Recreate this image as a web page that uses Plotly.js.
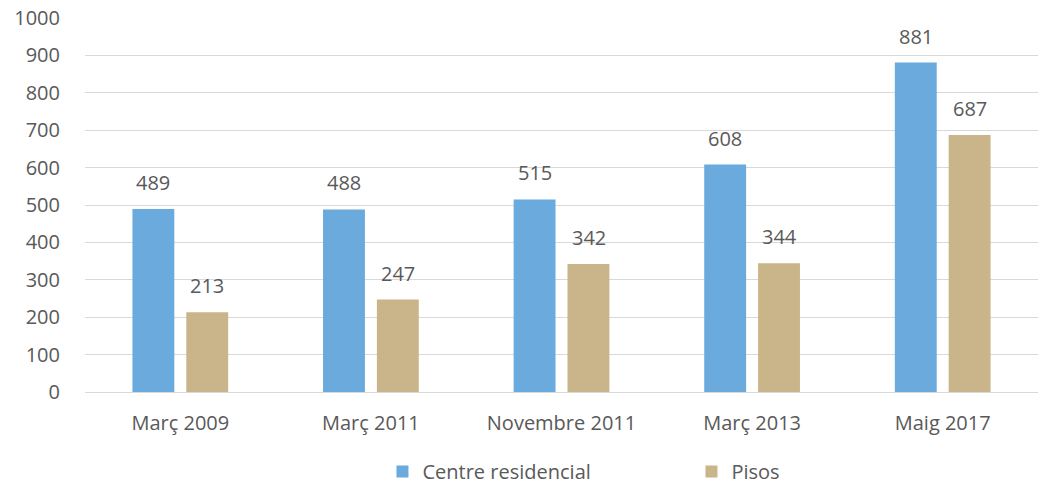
<!DOCTYPE html>
<html><head><meta charset="utf-8">
<script src="https://cdn.plot.ly/plotly-3.0.1.min.js"></script>
<style>body{margin:0;background:#fff}#c{width:1045px;height:491px}</style>
</head><body><div id="c"></div>
<script>
const categories = ["Març 2009", "Març 2011", "Novembre 2011", "Març 2013", "Maig 2017"];
const centreResidencial = [489, 488, 515, 608, 881];
const pisos = [213, 247, 342, 344, 687];
const seriesNames = ["Centre residencial", "Pisos"];
const yTicks = [0, 100, 200, 300, 400, 500, 600, 700, 800, 900, 1000];

const font = {family: "Open Sans, Liberation Sans, sans-serif", size: 20, color: "#595959"};
const traces = [
  {type: "bar", x: categories, y: centreResidencial, name: seriesNames[0], marker: {color: "#6aaadc"}},
  {type: "bar", x: categories, y: pisos, name: seriesNames[1], marker: {color: "#c9b589"}}
];
const annotations = [];
[centreResidencial, pisos].forEach((vals, si) => {
  vals.forEach((v, i) => {
    annotations.push({x: categories[i], y: v, text: String(v), showarrow: false,
      xshift: si === 0 ? -27 : 27, yshift: 11, yanchor: "bottom",
      font: {family: font.family, size: 20, color: "#595959"}});
  });
});
const layout = {
  width: 1045, height: 491,
  margin: {l: 85, r: 7, t: 18, b: 99},
  paper_bgcolor: "#fff", plot_bgcolor: "#fff",
  barmode: "group", bargap: 0.435, bargroupgap: 0.222,
  font: font,
  showlegend: true,
  legend: {orientation: "h", xref: "container", x: 0.366, xanchor: "left", yref: "container", y: -0.016, yanchor: "bottom",
    font: font, entrywidth: 264, entrywidthmode: "pixels"},
  xaxis: {type: "category", showgrid: false, zeroline: false, showline: false, ticks: "", tickfont: font, ticklabelstandoff: 17, automargin: false},
  yaxis: {range: [0, 1000], tickvals: yTicks, showgrid: true, gridcolor: "#d9d9d9", gridwidth: 1,
    zeroline: true, zerolinecolor: "#d9d9d9", showline: false, ticks: "", tickfont: font, ticklabelstandoff: 24, automargin: false},
  annotations: annotations
};
Plotly.newPlot("c", traces, layout, {displayModeBar: false, staticPlot: true});
</script></body></html>
